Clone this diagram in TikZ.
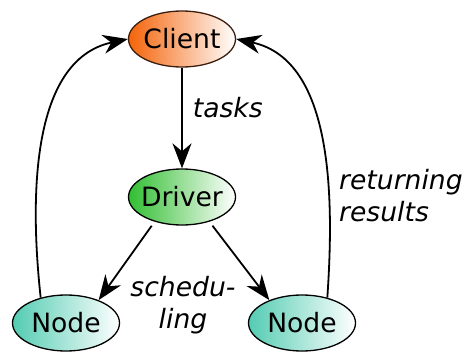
\documentclass[tikz,border=0pt]{standalone}
\usepackage{fontspec}
\setmainfont{DejaVu Sans}
\usetikzlibrary{shapes.geometric,arrows.meta}
\definecolor{clientorange}{RGB}{244,100,10}
\definecolor{drivergreen}{RGB}{50,190,50}
\definecolor{nodeteal}{RGB}{84,204,178}
\definecolor{clientedge}{RGB}{60,30,15}
\begin{document}
\begin{tikzpicture}[x=1pt,y=-1pt,
  blob/.style={ellipse, draw=black, line width=1.3pt, inner sep=0pt,
    minimum width=107pt, minimum height=56pt, shading=axis, right color=white,
    font=\fontsize{26.6}{32}\selectfont},
  link/.style={line width=1.8pt, -{Stealth[length=25pt,width=19pt,inset=8pt]}},
  lbl/.style={font=\fontsize{26.6}{32}\selectfont\itshape, inner sep=0pt}]
\useasboundingbox (0,0) rectangle (466,351);

% the four parties
\node[blob, left color=clientorange, right color=white, draw=clientedge] (client) at (182,39) {\makebox[0pt]{Client}};
\node[blob, left color=drivergreen, right color=white] (driver) at (182,197) {\makebox[0pt]{Driver}};
\node[blob, left color=nodeteal, right color=white] (nl) at (66,323) {\makebox[0pt]{Node}};
\node[blob, left color=nodeteal, right color=white] (nr) at (302,323) {\makebox[0pt]{Node}};

% task submission
\draw[link] (client) -- node[lbl, right=10pt, pos=0.4] (tasks) {tasks} (driver);

% scheduling onto the worker nodes
\draw[link, shorten <=5pt] (driver.222) -- (nl.35);
\draw[link, shorten <=5pt] (driver.318) -- (nr.145);
\node[lbl, align=center] (sched) at (183,305) {schedu-\\ling};

% results flowing back
\draw[link] (nl.135) .. controls (30,200) and (30,60) .. (client.west);
\draw[link] (nr.45) .. controls (334,200) and (334,60) .. (client.east);
\node[lbl, anchor=west, align=left] (ret) at (339,196) {returning\\results};
\end{tikzpicture}
\end{document}
